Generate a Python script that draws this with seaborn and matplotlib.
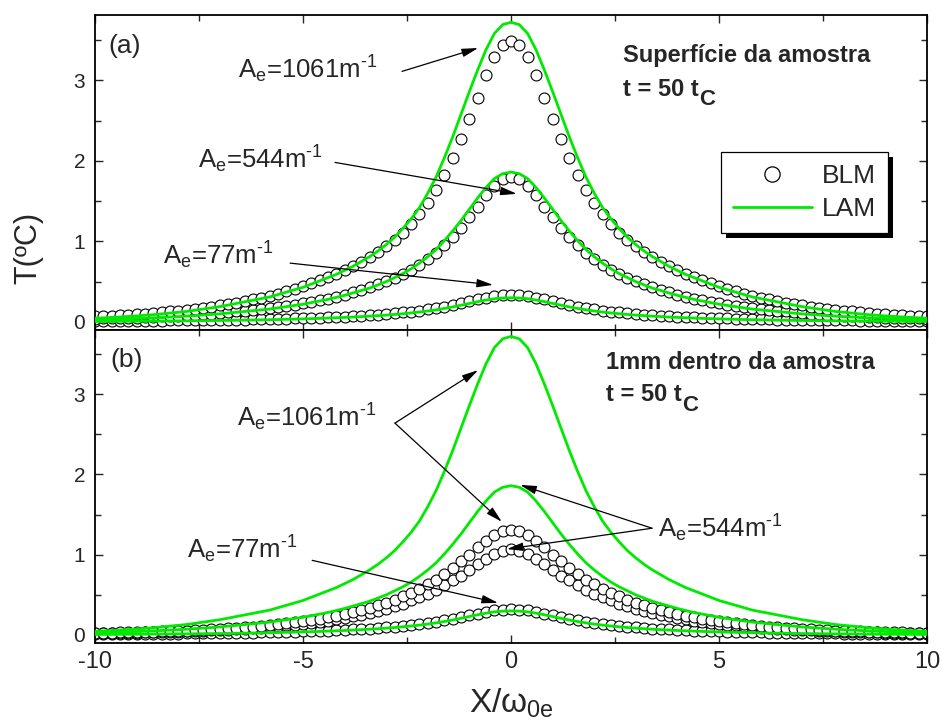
import numpy as np
import pandas as pd
import matplotlib
matplotlib.use("Agg")
import matplotlib.pyplot as plt
from matplotlib.lines import Line2D
from matplotlib.patches import Rectangle
import seaborn as sns

# ---------------- data (right half, x = 0..10 step 0.2; profiles are symmetric) -------------
x_half = [round(0.2 * i, 1) for i in range(51)]

lam_1061 = [3.72, 3.69, 3.58, 3.38, 3.13, 2.86, 2.58, 2.30, 2.04, 1.80,
            1.60, 1.42, 1.28, 1.16, 1.05, 0.96, 0.88, 0.81, 0.75, 0.69,
            0.64, 0.59, 0.55, 0.51, 0.47, 0.43, 0.40, 0.37, 0.34, 0.31,
            0.29, 0.27, 0.25, 0.23, 0.21, 0.19, 0.175, 0.16, 0.145, 0.13,
            0.12, 0.11, 0.10, 0.09, 0.082, 0.075, 0.068, 0.062, 0.056, 0.051, 0.046]
lam_544 = [1.86, 1.84, 1.78, 1.67, 1.54, 1.40, 1.26, 1.13, 1.01, 0.90,
           0.81, 0.73, 0.66, 0.60, 0.55, 0.50, 0.46, 0.42, 0.39, 0.36,
           0.33, 0.305, 0.28, 0.26, 0.24, 0.22, 0.205, 0.19, 0.175, 0.16,
           0.15, 0.14, 0.13, 0.12, 0.11, 0.10, 0.093, 0.086, 0.079, 0.072,
           0.066, 0.061, 0.056, 0.051, 0.047, 0.043, 0.040, 0.037, 0.034, 0.031, 0.029]
lam_77 = [0.30, 0.297, 0.288, 0.272, 0.252, 0.23, 0.208, 0.187, 0.168, 0.151,
          0.136, 0.123, 0.112, 0.102, 0.093, 0.085, 0.078, 0.072, 0.066, 0.061,
          0.056, 0.052, 0.048, 0.044, 0.041, 0.038, 0.035, 0.033, 0.030, 0.028,
          0.026, 0.024, 0.022, 0.021, 0.019, 0.018, 0.017, 0.016, 0.015, 0.014,
          0.013, 0.012, 0.011, 0.010, 0.0095, 0.009, 0.0085, 0.008, 0.0075, 0.007, 0.0065]

blm_a_1061 = [3.49, 3.44, 3.29, 3.06, 2.78, 2.52, 2.27, 2.04, 1.83, 1.64,
              1.48, 1.34, 1.22, 1.11, 1.02, 0.94, 0.87, 0.80, 0.74, 0.69,
              0.64, 0.595, 0.555, 0.515, 0.48, 0.445, 0.41, 0.38, 0.35, 0.325,
              0.30, 0.28, 0.26, 0.24, 0.22, 0.205, 0.19, 0.175, 0.162, 0.15,
              0.14, 0.13, 0.12, 0.112, 0.104, 0.097, 0.09, 0.084, 0.078, 0.073, 0.068]
blm_a_544 = [1.80, 1.77, 1.69, 1.57, 1.43, 1.30, 1.17, 1.05, 0.95, 0.86,
             0.78, 0.71, 0.65, 0.60, 0.55, 0.51, 0.47, 0.43, 0.40, 0.37,
             0.34, 0.315, 0.29, 0.27, 0.25, 0.23, 0.215, 0.20, 0.185, 0.17,
             0.16, 0.15, 0.14, 0.13, 0.12, 0.112, 0.104, 0.097, 0.09, 0.084,
             0.078, 0.073, 0.068, 0.063, 0.059, 0.055, 0.052, 0.049, 0.046, 0.043, 0.04]
blm_a_77 = [0.335, 0.33, 0.32, 0.30, 0.28, 0.255, 0.232, 0.21, 0.19, 0.172,
            0.156, 0.142, 0.129, 0.118, 0.108, 0.099, 0.091, 0.084, 0.078, 0.072,
            0.067, 0.062, 0.058, 0.054, 0.05, 0.047, 0.044, 0.041, 0.038, 0.036,
            0.034, 0.032, 0.03, 0.028, 0.026, 0.025, 0.023, 0.022, 0.021, 0.02,
            0.019, 0.018, 0.017, 0.016, 0.015, 0.014, 0.0135, 0.013, 0.0125, 0.012, 0.0115]

blm_b_1061 = [1.31, 1.29, 1.24, 1.17, 1.09, 1.00, 0.92, 0.84, 0.76, 0.69,
              0.63, 0.575, 0.525, 0.48, 0.44, 0.40, 0.37, 0.34, 0.31, 0.285,
              0.262, 0.241, 0.222, 0.204, 0.188, 0.173, 0.159, 0.146, 0.134, 0.123,
              0.113, 0.104, 0.096, 0.088, 0.081, 0.075, 0.069, 0.064, 0.059, 0.055,
              0.051, 0.047, 0.044, 0.041, 0.038, 0.036, 0.034, 0.032, 0.030, 0.028, 0.026]
blm_b_544 = [1.07, 1.05, 1.01, 0.95, 0.88, 0.81, 0.74, 0.68, 0.62, 0.565,
             0.515, 0.47, 0.43, 0.39, 0.355, 0.325, 0.30, 0.275, 0.252, 0.232,
             0.213, 0.196, 0.18, 0.166, 0.153, 0.141, 0.13, 0.12, 0.11, 0.101,
             0.093, 0.086, 0.079, 0.073, 0.067, 0.062, 0.057, 0.053, 0.049, 0.045,
             0.042, 0.039, 0.036, 0.034, 0.031, 0.029, 0.027, 0.025, 0.024, 0.022, 0.021]
blm_b_77 = [0.32, 0.316, 0.305, 0.288, 0.267, 0.244, 0.222, 0.201, 0.181, 0.164,
            0.148, 0.135, 0.123, 0.112, 0.103, 0.094, 0.087, 0.080, 0.074, 0.069,
            0.064, 0.059, 0.055, 0.051, 0.048, 0.045, 0.042, 0.039, 0.036, 0.034,
            0.032, 0.030, 0.028, 0.026, 0.025, 0.023, 0.022, 0.021, 0.020, 0.019,
            0.018, 0.017, 0.016, 0.015, 0.0145, 0.014, 0.013, 0.0125, 0.012, 0.0115, 0.011]

x_ticks = [-10, -5, 0, 5, 10]
y_ticks = [0, 1, 2, 3]


def full(vals):
    v = list(vals)
    return v[::-1][:-1] + v


x_full = [-x for x in x_half[::-1][:-1]] + x_half


def frame(series):
    rows = []
    for name, vals in series.items():
        for xx, yy in zip(x_full, full(vals)):
            rows.append((name, xx, yy))
    return pd.DataFrame(rows, columns=["serie", "x", "T"])


lam_df = frame({"1061": lam_1061, "544": lam_544, "77": lam_77})
blm_a_df = frame({"1061": blm_a_1061, "544": blm_a_544, "77": blm_a_77})
blm_b_df = frame({"1061": blm_b_1061, "544": blm_b_544, "77": blm_b_77})

# ---------------- style -------------
sns.set_style("ticks")
plt.rcParams["font.family"] = ["Liberation Sans", "DejaVu Sans"]
plt.rcParams["mathtext.fontset"] = "custom"
plt.rcParams["mathtext.rm"] = "Liberation Sans"
plt.rcParams["mathtext.it"] = "Liberation Sans:italic"
plt.rcParams["mathtext.bf"] = "Liberation Sans:bold"
plt.rcParams["axes.unicode_minus"] = False
GREEN = "#00ea00"

fig = plt.figure(figsize=(9.42, 7.22), dpi=100)
ax1 = fig.add_axes([0.10085, 0.54294, 0.88323, 0.43629])
ax2 = fig.add_axes([0.10085, 0.10942, 0.88323, 0.43352])


def draw(ax, blm_df):
    for name in ["77", "544", "1061"]:
        d = blm_df[blm_df.serie == name]
        sns.scatterplot(data=d, x="x", y="T", ax=ax, marker="o", s=62,
                        facecolor="white", edgecolor="black", linewidth=0.8,
                        zorder=2, legend=False, clip_on=True)
    for name in ["77", "544", "1061"]:
        d = lam_df[lam_df.serie == name]
        sns.lineplot(data=d, x="x", y="T", ax=ax, color=GREEN, lw=2.0,
                     errorbar=None, zorder=3, legend=False, sort=True)
    ax.set_xlim(-10, 10)
    ax.set_xticks(x_ticks)
    ax.set_xticks([-7.5, -2.5, 2.5, 7.5], minor=True)
    ax.set_yticks(y_ticks)
    ax.set_yticks([0.5, 1.5, 2.5, 3.5], minor=True)
    ax.tick_params(which="both", direction="in", top=True, right=True, width=1.0)
    ax.tick_params(which="major", length=6)
    ax.tick_params(which="minor", length=4)
    ax.tick_params(axis="y", labelsize=15, pad=7)
    ax.tick_params(axis="x", labelsize=17, pad=6)
    ax.set_xlabel("")
    ax.set_ylabel("")
    for sp in ax.spines.values():
        sp.set_linewidth(1.3)
        sp.set_color("black")


draw(ax1, blm_a_df)
draw(ax2, blm_b_df)
ax1.set_ylim(-0.1, 3.81)
ax2.set_ylim(-0.1, 3.8)
ax1.tick_params(axis="x", labelbottom=False)

LBL = 18.5
arrow = dict(arrowstyle="-|>,head_length=0.7,head_width=0.18", color="black", lw=0.9,
             shrinkA=0, shrinkB=0, mutation_scale=14)


def ae(val):
    return r"A$_\mathregular{e}$=" + val + r"m$^\mathregular{\text{-}1}$"


def time_label(ax, x, y):
    t = ax.text(x, y, "t = 50 t", fontsize=17, fontweight="bold", ha="left", va="baseline")
    ax.annotate("C", xy=(1, 0), xycoords=t, xytext=(0.5, 1.0), textcoords="offset points",
                fontsize=16, fontweight="bold", ha="left", va="center")


# panel (a)
ax1.text(-9.69, 3.34, "(a)", fontsize=19, ha="left", va="baseline")
ax1.text(-6.56, 3.02, ae("1061"), fontsize=LBL, ha="left", va="baseline")
ax1.annotate("", xy=(-0.79, 3.40), xytext=(-2.62, 3.11), arrowprops=arrow)
ax1.text(-7.52, 1.90, ae("544"), fontsize=LBL, ha="left", va="baseline")
ax1.annotate("", xy=(0.14, 1.59), xytext=(-4.23, 1.98), arrowprops=arrow)
ax1.text(-8.37, 0.71, ae("77"), fontsize=LBL, ha="left", va="baseline")
ax1.annotate("", xy=(-0.43, 0.46), xytext=(-5.31, 0.73), arrowprops=arrow)
ax1.text(2.69, 3.23, "Superfície da amostra", fontsize=17, fontweight="bold",
         ha="left", va="baseline")
time_label(ax1, 2.69, 2.80)

# panel (b)
ax2.text(-9.64, 3.34, "(b)", fontsize=19, ha="left", va="baseline")
ax2.text(-6.59, 2.60, ae("1061"), fontsize=LBL, ha="left", va="baseline")
ax2.annotate("", xy=(-0.79, 3.30), xytext=(-2.79, 2.64), arrowprops=arrow)
ax2.annotate("", xy=(-0.22, 1.41), xytext=(-2.79, 2.64), arrowprops=arrow)
ax2.text(-7.79, 0.96, ae("77"), fontsize=LBL, ha="left", va="baseline")
ax2.annotate("", xy=(-0.31, 0.40), xytext=(-4.78, 0.93), arrowprops=arrow)
ax2.text(3.53, 1.21, ae("544"), fontsize=LBL, ha="left", va="baseline")
ax2.annotate("", xy=(0.22, 1.87), xytext=(3.39, 1.33), arrowprops=arrow)
ax2.annotate("", xy=(-0.10, 1.07), xytext=(3.39, 1.33), arrowprops=arrow)
ax2.text(2.28, 3.31, "1mm dentro da amostra", fontsize=17, fontweight="bold",
         ha="left", va="baseline")
time_label(ax2, 2.28, 2.91)

# legend
handles = [Line2D([], [], marker="o", ls="", mfc="white", mec="black", ms=11, mew=0.9),
           Line2D([], [], color=GREEN, lw=2)]
leg = ax1.legend(handles, ["BLM", "LAM"], loc="upper left", bbox_to_anchor=(0.752, 0.565),
                 fontsize=19, frameon=True, fancybox=False, framealpha=1,
                 edgecolor="black", handlelength=3.0, labelspacing=0.35,
                 borderpad=0.45, handletextpad=0.4, borderaxespad=0)
leg.get_frame().set_linewidth(0.9)
leg.set_zorder(6)

# axis labels
fig.text(28 / 942, 1 - 248 / 722, "T(ºC)", rotation=90, fontsize=22, ha="center", va="center")
fig.text(511 / 942, 1 - 720 / 722, r"X/$\mathregular{\omega_{0e}}$", fontsize=24,
         ha="center", va="bottom")

# legend shadow
fig.canvas.draw()
bb = leg.get_window_extent()
shadow = Rectangle((bb.x0 + 5, bb.y0 - 5), bb.width, bb.height, transform=None,
                   facecolor="black", edgecolor="none", zorder=5.5)
ax1.add_artist(shadow)

fig.savefig("out.png", dpi=100)
